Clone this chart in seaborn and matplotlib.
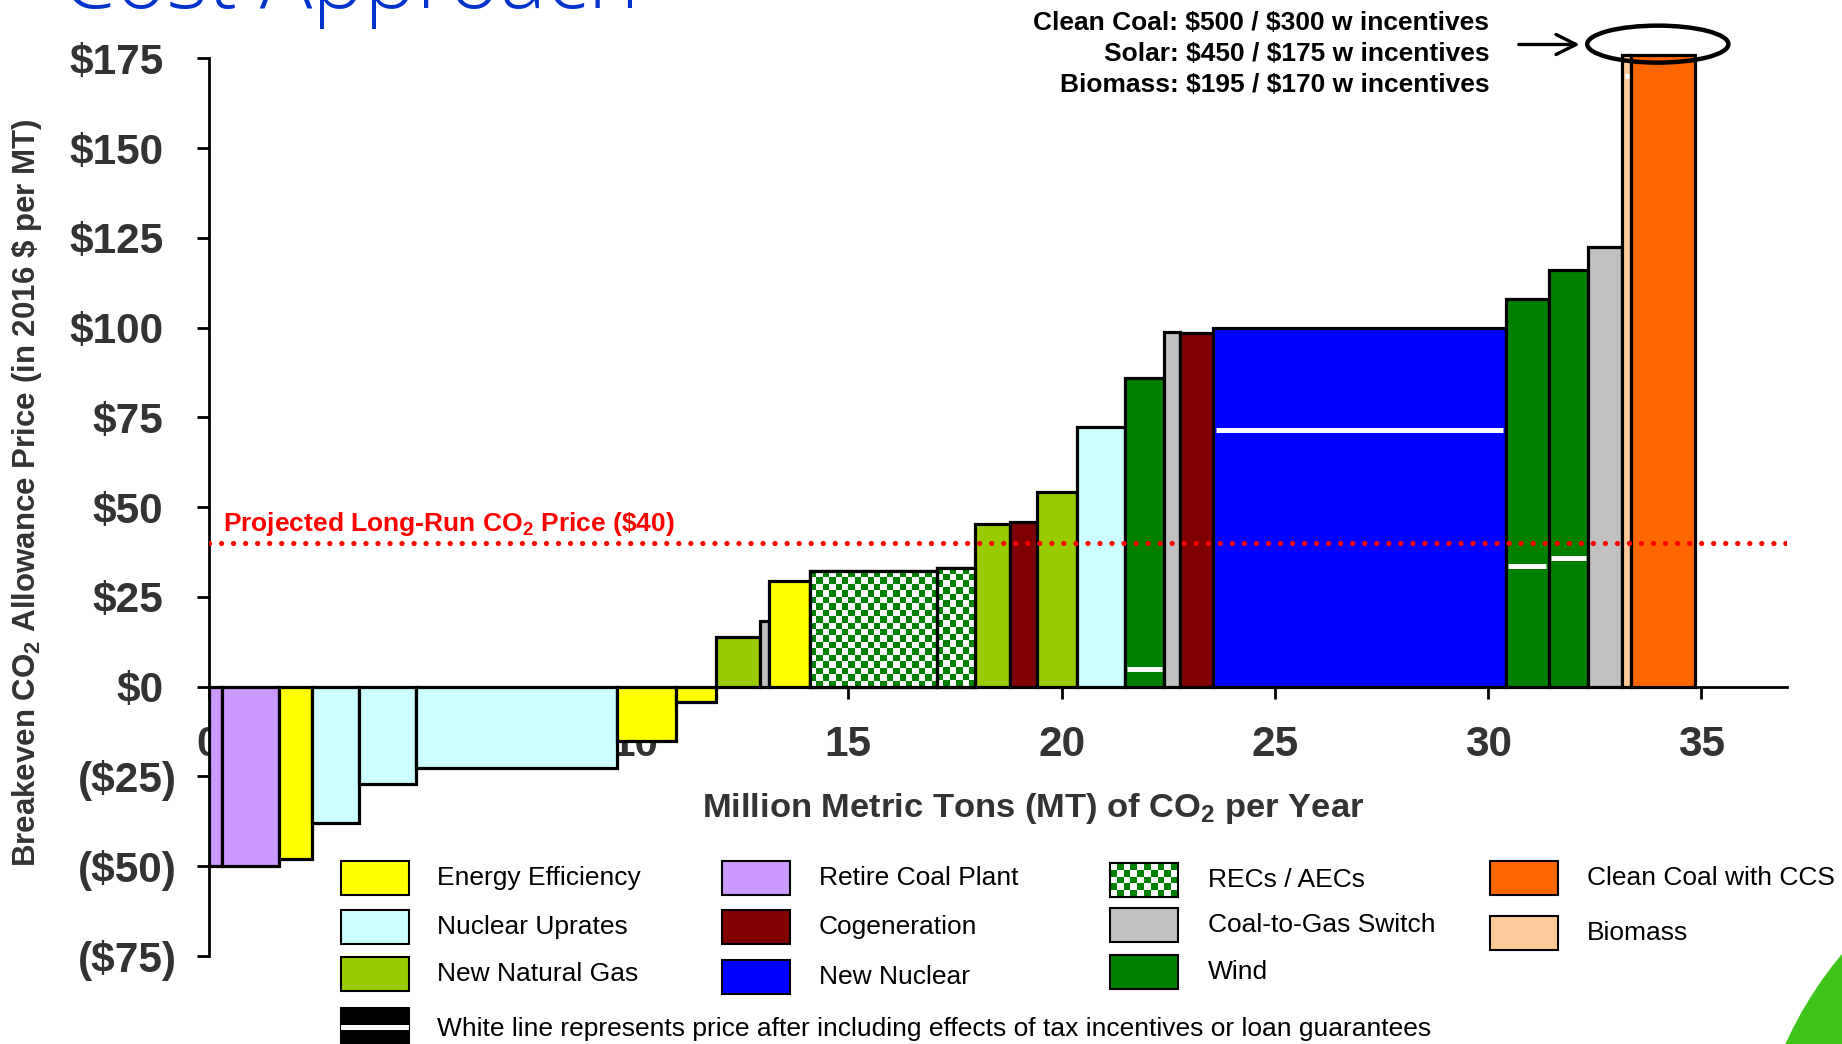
import numpy as np
import matplotlib
matplotlib.use("Agg")
import matplotlib.pyplot as plt
import seaborn as sns
from matplotlib.patches import Rectangle, Ellipse
from matplotlib.colors import ListedColormap

# ------------------------------------------------------------------ data
categories = ["Retire Coal Plant", "Retire Coal Plant", "Energy Efficiency",
              "Nuclear Uprates", "Nuclear Uprates", "Nuclear Uprates",
              "Energy Efficiency", "Energy Efficiency", "New Natural Gas",
              "Coal-to-Gas Switch", "Energy Efficiency", "RECs / AECs",
              "RECs / AECs", "New Natural Gas", "Cogeneration", "New Natural Gas",
              "Nuclear Uprates", "Wind", "Coal-to-Gas Switch", "Cogeneration",
              "New Nuclear", "Wind", "Wind", "Coal-to-Gas Switch", "Biomass",
              "Clean Coal with CCS"]
volumes = [0.32, 1.34, 0.77, 1.09, 1.35, 4.71, 1.39, 0.93, 1.03, 0.21, 0.95,
           2.99, 0.90, 0.80, 0.64, 0.93, 1.14, 0.92, 0.36, 0.79, 6.85, 1.01,
           0.93, 0.80, 0.21, 1.50]
prices = [-50, -50, -48, -38, -27, -22.5, -15, -4.3, 13.8, 18.2, 29.5, 32.3,
          33.2, 45.2, 45.9, 54.3, 72.4, 86, 98.8, 98.5, 100, 108, 116, 122.5,
          195, 500]
incentive_prices = [np.nan] * 17 + [5, np.nan, np.nan, 71.5, 33.7, 35.9,
                                    np.nan, 170, 300]

legend_labels = ["Energy Efficiency", "Nuclear Uprates", "New Natural Gas",
                 "Retire Coal Plant", "Cogeneration", "New Nuclear",
                 "RECs / AECs", "Coal-to-Gas Switch", "Wind",
                 "Clean Coal with CCS", "Biomass"]
legend_colors = ["#FFFF00", "#CCFFFF", "#99CC00",
                 "#CC99FF", "#800000", "#0000FF",
                 "#008000", "#C0C0C0", "#008000",
                 "#FF6600", "#FFCC99"]
white_line_note = ("White line represents price after including effects of "
                   "tax incentives or loan guarantees")

co2_price = 40
co2_label = r"Projected Long-Run CO$_\mathbf{2}$ Price (\$40)"

off_chart_names = ["Clean Coal", "Solar", "Biomass"]
off_chart_full = [500, 450, 195]
off_chart_incent = [300, 175, 170]

x_ticks = [0, 5, 10, 15, 20, 25, 30, 35]
x_tick_labels = ["0", "5", "10", "15", "20", "25", "30", "35"]
y_ticks = [-75, -50, -25, 0, 25, 50, 75, 100, 125, 150, 175]
y_tick_labels = ["($75)", "($50)", "($25)", "$0", "$25", "$50", "$75",
                 "$100", "$125", "$150", "$175"]

title = "Cost Approach"
x_label = r"Million Metric Tons (MT) of CO$_\mathbf{2}$ per Year"
y_label = r"Breakeven CO$_\mathbf{2}$ Allowance Price (in 2016 \$ per MT)"

# ------------------------------------------------------------------ style
sns.set_theme(style="white")
plt.rcParams["font.family"] = ["Liberation Sans", "DejaVu Sans"]
plt.rcParams["mathtext.fontset"] = "custom"
plt.rcParams["mathtext.rm"] = "Liberation Sans"
plt.rcParams["mathtext.bf"] = "Liberation Sans:bold"

W, H = 1842, 1044
fig = plt.figure(figsize=(W / 100, H / 100), dpi=100)
ax = fig.add_axes([0.11325, 0.08429, 0.85668, 0.86657])
ax.set_zorder(1)
ax.patch.set_alpha(0)


def fx(px):
    return px / W


def fy(py):
    return 1 - py / H


# decorative green shape (slide background)
fig.add_artist(Ellipse((fx(2140), fy(1204)), 2 * 389 / W, 2 * 389 / H,
                       transform=fig.transFigure, facecolor="#3ec41a",
                       edgecolor="none", zorder=0))

# title (cut off at the top in the reference)
fig.text(0.0330, 1 - 8 / H, title, fontsize=63, color="#0033CC",
         family=["Open Sans", "DejaVu Sans"], fontweight="light",
         va="baseline")

# ------------------------------------------------------------------ bars
cat_color = dict(zip(legend_labels, legend_colors))
vol = np.array(volumes)
lefts = np.concatenate([[0.0], np.cumsum(vol)[:-1]])
y_top = 176.0
shown = np.minimum(np.array(prices, dtype=float), y_top)
fills = ["white" if c == "RECs / AECs" else cat_color[c] for c in categories]
edge_w = 2.3

bars = ax.bar(lefts, shown, width=vol, align="edge", color=fills,
              edgecolor="black", linewidth=edge_w, zorder=3)

checker = ListedColormap(["white", "#008000"])
for i, c in enumerate(categories):
    if c != "RECs / AECs":
        continue
    nx = max(1, int(round(vol[i] / 0.152)))
    ny = max(1, int(round(shown[i] / 1.81)))
    board = np.add.outer(np.arange(ny), np.arange(nx)) % 2
    im = ax.imshow(board, extent=[lefts[i], lefts[i] + vol[i], 0, shown[i]],
                   cmap=checker, aspect="auto", interpolation="nearest",
                   origin="lower", zorder=3.1)
    im.set_clip_path(bars[i])
    ax.bar(lefts[i], shown[i], width=vol[i], align="edge", fill=False,
           edgecolor="black", linewidth=edge_w, zorder=3.2)

for i, v in enumerate(incentive_prices):
    if np.isfinite(v) and v <= y_top:
        ax.hlines(v, lefts[i] + 0.05, lefts[i] + vol[i] - 0.05,
                  colors="white", linewidth=3.6, zorder=3.3)

# projected CO2 price
ax.axhline(co2_price, color="red", linewidth=3.8, linestyle=(0, (0.01, 2.27)),
           dash_capstyle="round", zorder=5)
ax.text(0.34, 43.4, co2_label, color="red", fontsize=19, fontweight="bold",
        va="baseline", zorder=6)

# off-chart annotation
note_y = [184.8, 176.3, 167.5]
for name, full, inc, yy in zip(off_chart_names, off_chart_full,
                               off_chart_incent, note_y):
    ax.text(30.03, yy, f"{name}: ${full} / ${inc} w incentives",
            ha="right", va="center", fontsize=19, fontweight="bold",
            color="black", parse_math=False, clip_on=False)
ax.annotate("", xy=(32.15, 178.9), xytext=(30.72, 178.9),
            arrowprops=dict(arrowstyle="->", lw=2.4, color="black",
                            mutation_scale=36, shrinkA=0, shrinkB=0),
            annotation_clip=False)
ax.add_patch(Ellipse((33.98, 179.0), 3.31, 10.3, fill=False, lw=3.2,
                     edgecolor="black", clip_on=False, zorder=7))

# ------------------------------------------------------------------ axes
ax.set_xlim(0, 37)
ax.set_ylim(-75, 177)
sns.despine(ax=ax)
ax.spines["bottom"].set_position(("data", 0))
ax.spines["left"].set_bounds(-75, 175)
for s in ("left", "bottom"):
    ax.spines[s].set_linewidth(2)
    ax.spines[s].set_color("black")

ax.set_xticks(x_ticks)
ax.set_xticklabels(x_tick_labels)
ax.set_yticks(y_ticks)
ax.set_yticklabels(y_tick_labels)
ax.tick_params(axis="both", which="major", bottom=True, left=True,
               direction="out", length=8.6, width=2, color="black",
               labelsize=30.5, labelcolor="#333333")
ax.tick_params(axis="x", pad=19)
ax.tick_params(axis="y", pad=14)
for lbl in ax.get_xticklabels() + ax.get_yticklabels():
    lbl.set_fontweight("bold")
for lbl, val in zip(ax.get_yticklabels(), y_ticks):
    if val >= 0:
        lbl.set_x(-0.0088)
ax.grid(False)

ax.set_xlabel(x_label, fontsize=24.8, fontweight="bold", color="#333333")
ax.xaxis.label.set_va("baseline")
ax.xaxis.set_label_coords(0.5222, 0.154)
ax.set_ylabel(y_label, fontsize=22.5, fontweight="bold", color="#333333")
ax.yaxis.label.set_va("center")
ax.yaxis.set_label_coords(-0.1153, 0.5118)

# ------------------------------------------------------------------ legend
pw, ph = 68, 34
col_patch_x = [340.7, 722.4, 1110.0, 1489.5]
col_text_x = [437.0, 818.8, 1207.6, 1587.0]
row_tops = [[861, 910, 957], [861, 910, 960], [863, 908, 955], [861, 916]]
k = 0
for ci in range(4):
    for top in row_tops[ci]:
        lab, col = legend_labels[k], legend_colors[k]
        k += 1
        if lab == "RECs / AECs":
            lax = fig.add_axes([fx(col_patch_x[ci]), fy(top + ph), pw / W, ph / H])
            lax.set_zorder(4)
            lax.imshow(np.add.outer(np.arange(5), np.arange(10)) % 2,
                       cmap=checker, aspect="auto", interpolation="nearest")
            lax.set_xticks([])
            lax.set_yticks([])
            for s in lax.spines.values():
                s.set_visible(True)
                s.set_linewidth(1.5)
                s.set_color("black")
        else:
            fig.add_artist(Rectangle((fx(col_patch_x[ci]), fy(top + ph)),
                                     pw / W, ph / H, transform=fig.transFigure,
                                     facecolor=col, edgecolor="black", lw=1.5,
                                     zorder=4))
        fig.text(fx(col_text_x[ci]), fy(top + ph / 2), lab, fontsize=19,
                 va="center", ha="left", color="black", zorder=4)

# white-line explanation
fig.add_artist(Rectangle((fx(340.7), fy(1043)), pw / W, 35 / H,
                         transform=fig.transFigure, facecolor="black",
                         edgecolor="black", lw=1.5, zorder=4))
fig.add_artist(Rectangle((fx(340.7), fy(1030)), pw / W, 5 / H,
                         transform=fig.transFigure, facecolor="white",
                         edgecolor="none", zorder=4.1))
fig.text(fx(437.0), fy(1029), white_line_note, fontsize=19, va="center",
         ha="left", color="black", zorder=4)

fig.savefig("out.png", dpi=100)
